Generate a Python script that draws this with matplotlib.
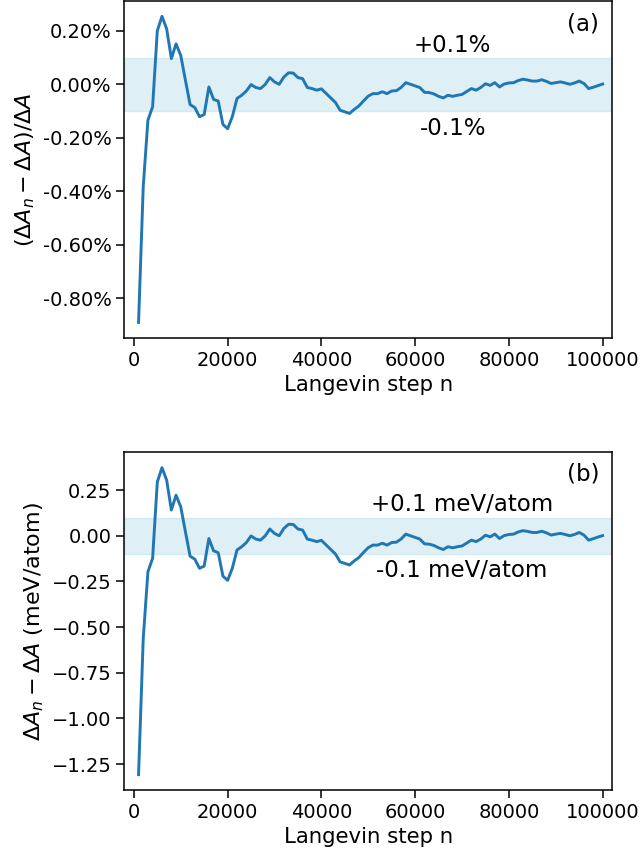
import matplotlib
matplotlib.use("Agg")
import matplotlib.pyplot as plt
from matplotlib.ticker import FuncFormatter

# Langevin steps (every 1000 steps)
steps = list(range(1000, 100001, 1000))

# (a) relative deviation, in percent
rel_pct = [
    -0.890, -0.382, -0.134, -0.084, 0.200, 0.254, 0.207, 0.096, 0.151, 0.108,
    0.015, -0.076, -0.087, -0.121, -0.113, -0.010, -0.056, -0.063, -0.150, -0.166,
    -0.121, -0.053, -0.041, -0.025, -0.001, -0.012, -0.016, -0.001, 0.025, 0.009,
    0.000, 0.027, 0.043, 0.042, 0.025, 0.021, -0.012, -0.016, -0.022, -0.017,
    -0.034, -0.051, -0.068, -0.097, -0.103, -0.109, -0.094, -0.081, -0.062, -0.044,
    -0.035, -0.035, -0.028, -0.035, -0.025, -0.024, -0.012, 0.006, 0.000, -0.006,
    -0.012, -0.030, -0.031, -0.036, -0.045, -0.051, -0.041, -0.045, -0.041, -0.038,
    -0.027, -0.016, -0.022, -0.012, 0.002, -0.004, 0.006, -0.010, 0.001, 0.005,
    0.006, 0.014, 0.019, 0.016, 0.012, 0.012, 0.017, 0.011, 0.003, 0.006,
    0.009, 0.005, 0.000, 0.005, 0.012, 0.003, -0.016, -0.011, -0.005, 0.001,
]

# (b) absolute deviation, meV/atom
abs_mev = [
    -1.308, -0.562, -0.197, -0.123, 0.294, 0.373, 0.304, 0.141, 0.222, 0.159,
    0.022, -0.112, -0.128, -0.178, -0.166, -0.015, -0.082, -0.093, -0.221, -0.244,
    -0.178, -0.078, -0.060, -0.037, -0.001, -0.018, -0.024, -0.001, 0.037, 0.013,
    0.000, 0.040, 0.063, 0.062, 0.037, 0.031, -0.018, -0.024, -0.032, -0.025,
    -0.050, -0.075, -0.100, -0.143, -0.151, -0.160, -0.138, -0.119, -0.091, -0.065,
    -0.051, -0.051, -0.041, -0.051, -0.037, -0.035, -0.018, 0.009, 0.000, -0.009,
    -0.018, -0.044, -0.046, -0.053, -0.066, -0.075, -0.060, -0.066, -0.060, -0.056,
    -0.040, -0.024, -0.032, -0.018, 0.003, -0.006, 0.009, -0.015, 0.001, 0.007,
    0.009, 0.021, 0.028, 0.024, 0.018, 0.018, 0.025, 0.016, 0.004, 0.009,
    0.013, 0.007, 0.000, 0.007, 0.018, 0.004, -0.024, -0.016, -0.007, 0.001,
]

band_a = 0.001   # +-0.1 %
band_b = 0.1     # +-0.1 meV/atom

LINE = "#1f77b4"
BAND = "lightblue"
FS_TICK = 14
FS_XLABEL = 15.3
FS_YLABEL = 16
FS_NOTE = 16.5

plt.rcParams["font.family"] = "DejaVu Sans"
plt.rcParams["font.size"] = FS_TICK
plt.rcParams["axes.linewidth"] = 1.1

fig = plt.figure(figsize=(6.41, 8.55), dpi=100)
ax1 = fig.add_axes([0.1942, 0.6050, 0.7606, 0.3938])
ax2 = fig.add_axes([0.1942, 0.0760, 0.7606, 0.3950])


def style(ax):
    ax.tick_params(labelsize=FS_TICK, length=5.8, width=1.1)
    ax.set_xlim(-2000, 102000)
    ax.set_xlabel("Langevin step n", fontsize=FS_XLABEL, labelpad=4)


# panel (a)
rel = [v / 100 for v in rel_pct]
ax1.axhspan(-band_a, band_a, facecolor=BAND, edgecolor=BAND, alpha=0.4, lw=1)
ax1.plot(steps, rel, color=LINE, lw=2.1)
style(ax1)
ax1.yaxis.set_major_formatter(FuncFormatter(lambda v, pos: f"{v:.2%}"))
ax1.set_ylabel(r"$(\Delta A_n-\Delta A)/\Delta A$", fontsize=FS_YLABEL, labelpad=4)
ax1.text(68000, 0.0012, "+0.1%", ha="center", fontsize=FS_NOTE)
ax1.text(68000, -0.0019, "-0.1%", ha="center", fontsize=FS_NOTE)
ax1.text(0.908, 0.913, "(a)", transform=ax1.transAxes, fontsize=FS_NOTE)

# panel (b)
ax2.axhspan(-band_b, band_b, facecolor=BAND, edgecolor=BAND, alpha=0.4, lw=1)
ax2.plot(steps, abs_mev, color=LINE, lw=2.1)
style(ax2)
ax2.set_ylabel(r"$\Delta A_n-\Delta A$ (meV/atom)", fontsize=FS_YLABEL, labelpad=4)
ax2.text(70000, 0.137, "+0.1 meV/atom", ha="center", fontsize=FS_NOTE)
ax2.text(70000, -0.228, "-0.1 meV/atom", ha="center", fontsize=FS_NOTE)
ax2.text(0.908, 0.917, "(b)", transform=ax2.transAxes, fontsize=FS_NOTE)

fig.savefig("out.png", dpi=100)
